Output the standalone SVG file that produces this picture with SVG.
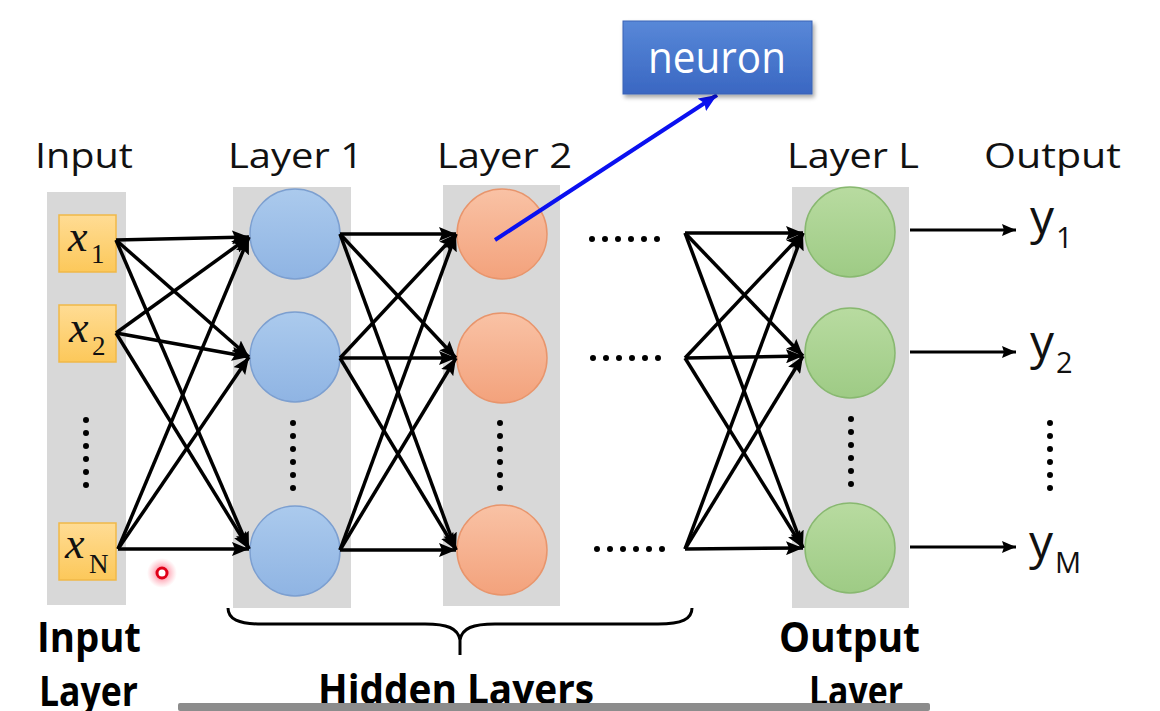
<svg xmlns="http://www.w3.org/2000/svg" width="1160" height="711" viewBox="0 0 1160 711">
<defs>
<style>
.col{fill:#d8d8d8}
.blue{fill:url(#gBlue);stroke:#7c9fd0;stroke-width:1.5}
.orange{fill:url(#gOrange);stroke:#e8956c;stroke-width:1.5}
.green{fill:url(#gGreen);stroke:#88b870;stroke-width:1.5}
.xbox{fill:url(#gX);stroke:#f0b848;stroke-width:1.5}
.conn line{stroke:#000;stroke-width:3.5;marker-end:url(#arr)}
.out line{stroke:#000;stroke-width:3;marker-end:url(#arrS)}
.dots{stroke:#000;stroke-width:6;stroke-linecap:round;stroke-dasharray:0 13;fill:none}
.lbl{font-family:"Open Sans","Liberation Sans",sans-serif;font-size:35px;fill:#111}
.bold{font-family:"Open Sans","Liberation Sans",sans-serif;font-size:42px;font-weight:bold;fill:#000}
.xv{font-family:"Liberation Serif","Times New Roman",serif;font-style:italic;font-size:44px;fill:#111}
.xs{font-family:"Liberation Serif","Times New Roman",serif;font-size:27px;fill:#111}
.yv{font-family:"Open Sans","Liberation Sans",sans-serif;font-size:48px;fill:#111}
.ys{font-family:"Open Sans","Liberation Sans",sans-serif;font-size:29px;fill:#111}
</style>
<linearGradient id="gBlue" x1="0" y1="0" x2="0" y2="1"><stop offset="0" stop-color="#abcaed"/><stop offset="1" stop-color="#8fb4e3"/></linearGradient>
<linearGradient id="gOrange" x1="0" y1="0" x2="0" y2="1"><stop offset="0" stop-color="#f9c2a5"/><stop offset="1" stop-color="#f3a27c"/></linearGradient>
<linearGradient id="gGreen" x1="0" y1="0" x2="0" y2="1"><stop offset="0" stop-color="#b8dba0"/><stop offset="1" stop-color="#9ecb85"/></linearGradient>
<linearGradient id="gX" x1="0" y1="0" x2="0" y2="1"><stop offset="0" stop-color="#ffdc94"/><stop offset="1" stop-color="#fcc85a"/></linearGradient>
<linearGradient id="gNeuron" x1="0" y1="0" x2="0" y2="1"><stop offset="0" stop-color="#5888d8"/><stop offset="1" stop-color="#3a67c2"/></linearGradient>
<radialGradient id="gGlow"><stop offset="0.35" stop-color="#ff5070" stop-opacity="0.55"/><stop offset="1" stop-color="#ff8090" stop-opacity="0"/></radialGradient>
<filter id="shadow" x="-10%" y="-10%" width="130%" height="140%"><feDropShadow dx="2" dy="3" stdDeviation="2" flood-color="#000" flood-opacity="0.35"/></filter>
<marker id="arr" markerUnits="userSpaceOnUse" markerWidth="18" markerHeight="14" refX="17" refY="7" orient="auto"><path d="M0,0 L17,7 L0,14 L3,7 z" fill="#000"/></marker>
<marker id="arrS" markerUnits="userSpaceOnUse" markerWidth="15" markerHeight="12" refX="14" refY="6" orient="auto"><path d="M0,0 L14,6 L0,12 L2,6 z" fill="#000"/></marker>
<marker id="arrB" markerUnits="userSpaceOnUse" markerWidth="19" markerHeight="15" refX="18" refY="7.5" orient="auto"><path d="M0,0 L18,7.5 L0,15 L3,7.5 z" fill="#0a10f0"/></marker>
</defs>
<rect width="1160" height="711" fill="#fff"/>

<!-- column backgrounds -->
<rect class="col" x="47" y="192" width="79" height="413"/>
<rect class="col" x="233" y="187" width="118" height="421"/>
<rect class="col" x="443" y="185" width="117" height="421"/>
<rect class="col" x="792" y="187" width="117" height="421"/>

<!-- labels top -->
<g id="labels-top">
<text class="lbl" x="35" y="168" textLength="98" lengthAdjust="spacingAndGlyphs">Input</text>
<text class="lbl" x="228" y="168" textLength="135" lengthAdjust="spacingAndGlyphs">Layer 1</text>
<text class="lbl" x="437" y="168" textLength="135" lengthAdjust="spacingAndGlyphs">Layer 2</text>
<text class="lbl" x="787" y="168" textLength="132" lengthAdjust="spacingAndGlyphs">Layer L</text>
<text class="lbl" x="984" y="168" textLength="137" lengthAdjust="spacingAndGlyphs">Output</text>
</g>

<!-- input nodes -->
<g id="input-x1">
<rect class="xbox" x="59" y="215" width="57" height="57"/>
<text class="xv" x="68" y="251">x</text><text class="xs" x="91" y="263">1</text>
</g>
<g id="input-x2">
<rect class="xbox" x="59" y="305" width="57" height="57"/>
<text class="xv" x="69" y="342">x</text><text class="xs" x="92" y="355">2</text>
</g>
<g id="input-xN">
<rect class="xbox" x="59" y="523" width="57" height="57"/>
<text class="xv" x="65" y="558">x</text><text class="xs" x="89" y="573">N</text>
</g>
<path class="dots" d="M86,420 L86,486"/>

<!-- layer 1 -->
<g id="layer1-n1"><circle class="blue" cx="295" cy="234" r="45"/></g>
<g id="layer1-n2"><circle class="blue" cx="295" cy="357" r="45"/></g>
<g id="layer1-n3"><circle class="blue" cx="295" cy="551" r="45"/></g>
<path class="dots" d="M293,423 L293,489"/>

<!-- layer 2 -->
<g id="layer2-n1"><circle class="orange" cx="502" cy="234" r="45"/></g>
<g id="layer2-n2"><circle class="orange" cx="502" cy="358" r="45"/></g>
<g id="layer2-n3"><circle class="orange" cx="502" cy="550" r="45"/></g>
<path class="dots" d="M500,423 L500,489"/>

<!-- horizontal ellipses -->
<path class="dots" d="M592,239 L658,239"/>
<path class="dots" d="M593,358 L659,358"/>
<path class="dots" d="M597,549 L663,549"/>

<!-- layer L -->
<g id="layerL-n1"><circle class="green" cx="850" cy="232" r="45"/></g>
<g id="layerL-n2"><circle class="green" cx="850" cy="353" r="45"/></g>
<g id="layerL-n3"><circle class="green" cx="850" cy="548" r="45"/></g>
<path class="dots" d="M851,419 L851,485"/>

<!-- outputs -->
<g id="output-y1"><text class="yv" x="1030" y="234">y</text><text class="ys" x="1056" y="248">1</text></g>
<g id="output-y2"><text class="yv" x="1030" y="359">y</text><text class="ys" x="1056" y="373">2</text></g>
<g id="output-yM"><text class="yv" x="1029" y="559">y</text><text class="ys" x="1055" y="573">M</text></g>
<path class="dots" d="M1050,423 L1050,489"/>

<!-- connectors -->
<g id="connectors">
<g class="conn">
<line x1="116" y1="240" x2="249" y2="237"/>
<line x1="116" y1="240" x2="249" y2="357"/>
<line x1="116" y1="240" x2="249" y2="549"/>
<line x1="116" y1="333" x2="249" y2="237"/>
<line x1="116" y1="333" x2="249" y2="357"/>
<line x1="116" y1="333" x2="249" y2="549"/>
<line x1="118" y1="549" x2="249" y2="237"/>
<line x1="118" y1="549" x2="249" y2="357"/>
<line x1="118" y1="549" x2="249" y2="549"/>

<line x1="340" y1="234" x2="456" y2="234"/>
<line x1="340" y1="234" x2="456" y2="358"/>
<line x1="340" y1="234" x2="456" y2="550"/>
<line x1="340" y1="358" x2="456" y2="234"/>
<line x1="340" y1="358" x2="456" y2="358"/>
<line x1="340" y1="358" x2="456" y2="550"/>
<line x1="340" y1="550" x2="456" y2="234"/>
<line x1="340" y1="550" x2="456" y2="358"/>
<line x1="340" y1="550" x2="456" y2="550"/>

<line x1="685" y1="233" x2="803" y2="233"/>
<line x1="685" y1="233" x2="803" y2="356"/>
<line x1="685" y1="233" x2="803" y2="548"/>
<line x1="685" y1="358" x2="803" y2="233"/>
<line x1="685" y1="358" x2="803" y2="356"/>
<line x1="685" y1="358" x2="803" y2="548"/>
<line x1="685" y1="549" x2="803" y2="233"/>
<line x1="685" y1="549" x2="803" y2="356"/>
<line x1="685" y1="549" x2="803" y2="548"/>
</g>
<g class="out">
<line x1="910" y1="230" x2="1016" y2="230"/>
<line x1="910" y1="352" x2="1016" y2="352"/>
<line x1="910" y1="547" x2="1016" y2="547"/>
</g>
<line x1="495" y1="240" x2="717" y2="95" stroke="#0a10f0" stroke-width="4" marker-end="url(#arrB)"/>
</g>

<!-- neuron callout -->
<g id="neuron">
<rect x="623" y="21" width="189" height="73" fill="url(#gNeuron)" stroke="#3a62b5" stroke-width="1" filter="url(#shadow)"/>
<text x="648" y="73" font-family="'Open Sans','Liberation Sans',sans-serif" font-size="44" fill="#fff" textLength="138" lengthAdjust="spacingAndGlyphs">neuron</text>
</g>

<!-- brace -->
<path d="M228,608 C228,619 238,624 262,624 L425,624 C447,624 458,628 460,640 L460,655 M460,640 C462,628 473,624 495,624 L658,624 C682,624 692,619 692,608" fill="none" stroke="#000" stroke-width="3"/>

<!-- bottom labels -->
<g id="labels-bottom">
<text class="bold" x="37" y="652" textLength="104" lengthAdjust="spacingAndGlyphs">Input</text>
<text class="bold" x="39" y="706" textLength="99" lengthAdjust="spacingAndGlyphs">Layer</text>
<text class="bold" x="318" y="704" textLength="276" lengthAdjust="spacingAndGlyphs">Hidden Layers</text>
<text class="bold" x="779" y="652" textLength="141" lengthAdjust="spacingAndGlyphs">Output</text>
<text class="bold" x="809" y="706" textLength="94" lengthAdjust="spacingAndGlyphs">Layer</text>
</g>

<!-- cursor marker -->
<circle cx="162" cy="573" r="15" fill="url(#gGlow)"/>
<circle cx="162" cy="573" r="5" fill="#fff" stroke="#e00018" stroke-width="3"/>

<!-- bottom bar -->
<rect x="178" y="703" width="752" height="8" rx="2" fill="#8c8c8c"/>
</svg>
